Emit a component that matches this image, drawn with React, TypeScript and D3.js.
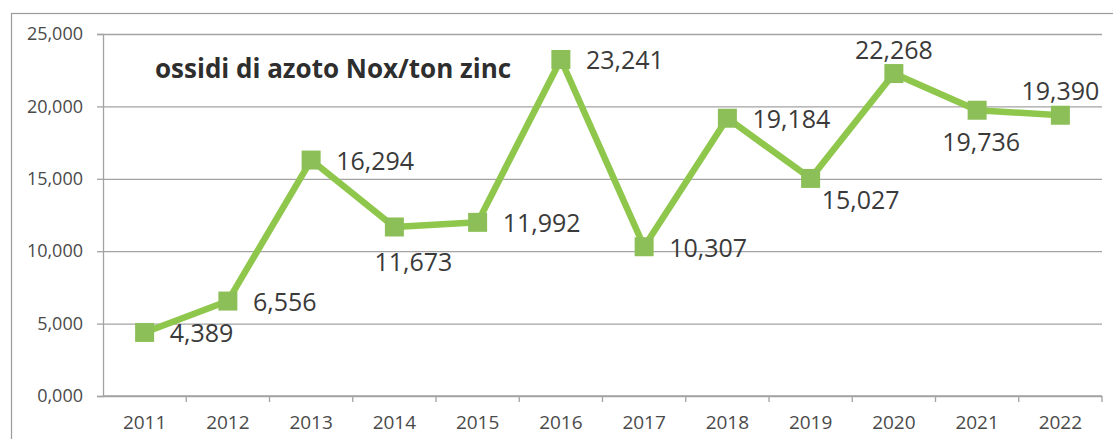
import React, { useEffect, useRef } from "react";
import * as d3 from "d3";

const years = ["2011", "2012", "2013", "2014", "2015", "2016", "2017", "2018", "2019", "2020", "2021", "2022"];
const values = [4.389, 6.556, 16.294, 11.673, 11.992, 23.241, 10.307, 19.184, 15.027, 22.268, 19.736, 19.39];
// where each data label sits relative to its marker
const labelPlacement = ["right", "right", "right", "belowShift", "right", "right", "right", "right", "belowRight", "above", "below", "above"];
const yTicks = [0, 5, 10, 15, 20, 25];
const title = "ossidi di azoto Nox/ton zinc";

const App: React.FC = () => {
    const svgRef = useRef<SVGSVGElement>(null);

    useEffect(() => {
        if (!svgRef.current) return;

        const width = 1113;
        const height = 439;
        const marginTop = 34;
        const marginRight = 11;
        const marginBottom = 43;
        const marginLeft = 103;

        const font = "'Open Sans', 'Noto Sans', sans-serif";
        const gridColor = "#a3a3a3";
        const lineColor = "#8fc74c";
        const markerColor = "#8cbf57";

        const locale = d3.formatLocale({ decimal: ",", thousands: ".", grouping: [3], currency: ["", "€"] });
        const fmt = locale.format(".3f");

        const x = d3.scaleBand()
            .domain(years)
            .range([marginLeft, width - marginRight]);

        const y = d3.scaleLinear()
            .domain([0, 25])
            .range([height - marginBottom, marginTop]);

        const svg = d3.select(svgRef.current)
            .attr("width", width)
            .attr("height", height)
            .attr("viewBox", [0, 0, width, height]);

        svg.selectAll("*").remove();

        svg.append("rect")
            .attr("width", width)
            .attr("height", height)
            .attr("fill", "#fff");

        // outer chart border (cut off by the scan on the right and bottom)
        svg.append("rect")
            .attr("x", 11.5)
            .attr("y", 13.5)
            .attr("width", width + 10)
            .attr("height", height + 10)
            .attr("fill", "none")
            .attr("stroke", "#9a9a9a")
            .attr("stroke-width", 1.2);

        // y axis with gridlines
        svg.append("g")
            .attr("transform", `translate(${marginLeft},0)`)
            .call(
                d3.axisLeft(y)
                    .tickValues(yTicks)
                    .tickFormat((d) => fmt(d as number))
                    .tickSize(6)
                    .tickPadding(14),
            )
            .call((g) => g.select(".domain").attr("stroke", gridColor).attr("stroke-width", 1.3))
            .call((g) => g.selectAll(".tick line").attr("stroke", gridColor).attr("stroke-width", 1.3))
            .call((g) =>
                g.selectAll(".tick line").clone()
                    .attr("x1", 0)
                    .attr("x2", width - marginLeft - marginRight)
                    .attr("stroke", gridColor)
                    .attr("stroke-width", 1.3)
            )
            .call((g) =>
                g.selectAll(".tick text")
                    .attr("fill", "#4a4a4a")
                    .style("font-family", font)
                    .style("font-size", "18px")
            );

        // x axis, ticks on category boundaries
        const xAxis = svg.append("g")
            .attr("transform", `translate(0,${height - marginBottom})`)
            .call(d3.axisBottom(x).tickSize(0).tickPadding(20))
            .call((g) => g.select(".domain").remove())
            .call((g) =>
                g.selectAll(".tick text")
                    .attr("fill", "#4a4a4a")
                    .style("font-family", font)
                    .style("font-size", "19px")
            );

        xAxis.append("line")
            .attr("x1", marginLeft)
            .attr("x2", width - marginRight)
            .attr("stroke", gridColor)
            .attr("stroke-width", 1.3);

        xAxis.selectAll(".boundary")
            .data(years)
            .join("line")
            .attr("class", "boundary")
            .attr("x1", (d) => (x(d) as number) + x.bandwidth())
            .attr("x2", (d) => (x(d) as number) + x.bandwidth())
            .attr("y1", 0)
            .attr("y2", 6)
            .attr("stroke", gridColor)
            .attr("stroke-width", 1.3);

        const cx = (i: number) => (x(years[i]) as number) + x.bandwidth() / 2;

        const line = d3.line<number>()
            .x((_, i) => cx(i))
            .y((d) => y(d));

        svg.append("path")
            .datum(values)
            .attr("fill", "none")
            .attr("stroke", lineColor)
            .attr("stroke-width", 6.5)
            .attr("stroke-linejoin", "round")
            .attr("d", line);

        const markerSize = 19;
        svg.append("g")
            .selectAll("rect")
            .data(values)
            .join("rect")
            .attr("x", (_, i) => cx(i) - markerSize / 2)
            .attr("y", (d) => y(d) - markerSize / 2)
            .attr("width", markerSize)
            .attr("height", markerSize)
            .attr("fill", markerColor);

        const offsets: Record<string, { dx: number; dy: number; anchor: string }> = {
            right: { dx: 25, dy: 1, anchor: "start" },
            above: { dx: 0, dy: -24, anchor: "middle" },
            below: { dx: 4, dy: 32, anchor: "middle" },
            belowShift: { dx: 19, dy: 35, anchor: "middle" },
            belowRight: { dx: 50, dy: 22, anchor: "middle" },
        };

        svg.append("g")
            .selectAll("text")
            .data(values)
            .join("text")
            .attr("x", (_, i) => cx(i) + offsets[labelPlacement[i]].dx)
            .attr("y", (d, i) => y(d) + offsets[labelPlacement[i]].dy)
            .attr("dy", "0.36em")
            .attr("text-anchor", (_, i) => offsets[labelPlacement[i]].anchor)
            .attr("fill", "#3a3a3a")
            .style("font-family", font)
            .style("font-size", "25px")
            .text((d) => fmt(d));

        svg.append("text")
            .attr("x", 155)
            .attr("y", 78)
            .attr("fill", "#2e2e2e")
            .style("font-family", font)
            .style("font-size", "26px")
            .style("font-weight", "bold")
            .text(title);
    }, []);

    return <svg ref={svgRef} style={{ position: "absolute", left: 0, top: 0 }} />;
};

export default App;
